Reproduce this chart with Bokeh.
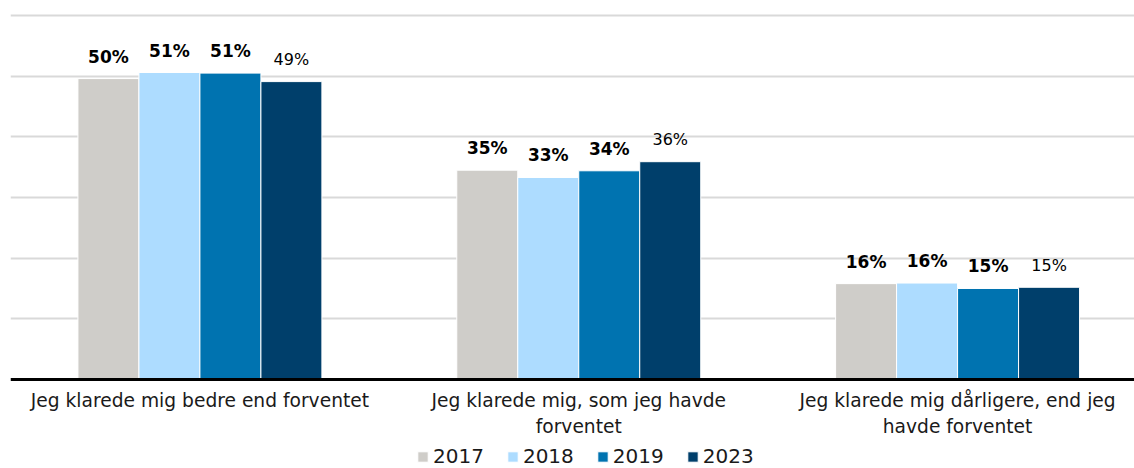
from bokeh.plotting import figure
from bokeh.models import ColumnDataSource, Range1d, FixedTicker, Legend, LegendItem
from bokeh.core.properties import value
from bokeh.embed import file_html
from bokeh.resources import INLINE

categories = ["Jeg klarede mig bedre end forventet",
              "Jeg klarede mig, som jeg havde\nforventet",
              "Jeg klarede mig dårligere, end jeg\nhavde forventet"]
years = ["2017", "2018", "2019", "2023"]
v2017 = [49.6, 34.5, 15.8]
v2018 = [50.6, 33.3, 15.9]
v2019 = [50.5, 34.4, 15.0]
v2023 = [49.1, 35.9, 15.2]
labels2017 = ["50%", "35%", "16%"]
labels2018 = ["51%", "33%", "16%"]
labels2019 = ["51%", "34%", "15%"]
labels2023 = ["49%", "36%", "15%"]
colors = ["#CFCDC9", "#ADDCFF", "#0073B0", "#003F6B"]
grid_ticks = [10, 20, 30, 40, 50, 60]

series = [v2017, v2018, v2019, v2023]
series_labels = [labels2017, labels2018, labels2019, labels2023]

FONT = "DejaVu Sans"
p = figure(width=1134, height=468, output_backend="svg", toolbar_location=None,
           x_range=Range1d(-0.5, 2.467), y_range=Range1d(-14.67, 61.15),
           y_axis_location=None, min_border_left=10, min_border_right=0,
           min_border_top=8, min_border_bottom=0)
p.outline_line_color = None
p.xgrid.visible = False
p.ygrid.ticker = FixedTicker(ticks=grid_ticks)
p.ygrid.grid_line_color = "#D9D9D9"
p.ygrid.grid_line_width = 2

bw = 0.161
offsets = [-1.5 * bw, -0.5 * bw, 0.5 * bw, 1.5 * bw]
renderers = []
for k, (vals, labs) in enumerate(zip(series, series_labels)):
    xs = [i + offsets[k] for i in range(len(categories))]
    src = ColumnDataSource(dict(x=xs, top=vals, lab=labs))
    r = p.vbar(x="x", top="top", bottom=0, width=bw, source=src, fill_color=colors[k],
               line_color="white", line_width=1)
    renderers.append(r)
    bold = k < 3
    p.text(x="x", y="top", text="lab", source=src, text_align="center",
           text_baseline="alphabetic", y_offset=-22,
           text_font=value(FONT), text_font_style="bold" if bold else "normal",
           text_font_size="17px" if bold else "16px", text_color="#000000")

ax = p.xaxis[0]
ax.fixed_location = 0
ax.ticker = FixedTicker(ticks=list(range(len(categories))))
ax.major_label_overrides = {i: c for i, c in enumerate(categories)}
ax.axis_line_color = "#000000"
ax.axis_line_width = 3
ax.major_tick_line_color = None
ax.minor_tick_line_color = None
ax.major_label_standoff = 5
ax.major_label_text_font = FONT
ax.major_label_text_font_size = "18.67px"
ax.major_label_text_color = "#1a1a1a"

legend = Legend(items=[LegendItem(label=y, renderers=[r]) for y, r in zip(years, renderers)],
                orientation="horizontal", location=(406, 0),
                glyph_width=13, glyph_height=13, label_standoff=4, spacing=22,
                padding=0, margin=0, border_line_color=None, background_fill_alpha=0,
                label_text_font=FONT, label_text_font_size="20px",
                label_text_color="#1a1a1a")
p.add_layout(legend, "center")

open("out.html", "w").write(file_html(p, INLINE))
